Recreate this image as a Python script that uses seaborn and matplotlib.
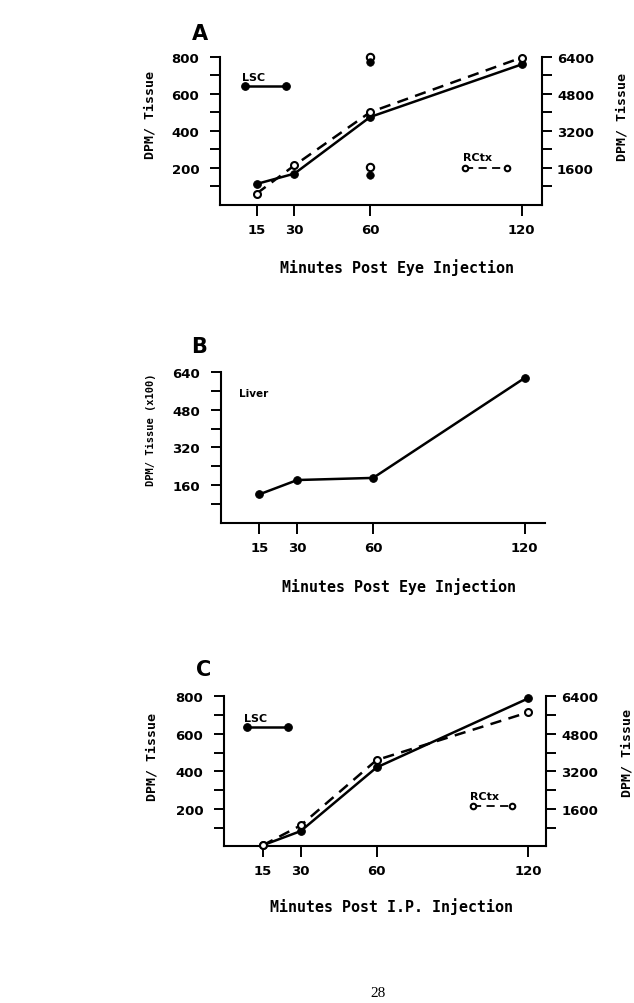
import numpy as np
import pandas as pd
import matplotlib
matplotlib.use("Agg")
import matplotlib.pyplot as plt
import seaborn as sns

# ---------------- data ----------------
minutes = [15, 30, 60, 120]
x_ticks = [15, 30, 60, 120]

# Panel A (eye injection)
a_lsc = [112, 168, 474, 758]            # left axis, DPM/Tissue
a_rctx = [480, 1700, 4000, 6360]        # right axis, DPM/Tissue
a_spread_x = [60, 60]
a_spread_open = [797, 203]              # left-axis scale
a_spread_filled = [773, 160]

# Panel B (liver, x100)
b_liver = [120, 181, 190, 616]

# Panel C (i.p. injection)
c_lsc = [10, 85, 421, 786]
c_rctx = [80, 920, 3680, 5700]

left_ticks = [100, 200, 300, 400, 500, 600, 700, 800]
left_labels = ["", "200", "", "400", "", "600", "", "800"]
right_ticks = [800, 1600, 2400, 3200, 4000, 4800, 5600, 6400]
right_labels = ["", "1600", "", "3200", "", "4800", "", "6400"]
b_ticks = [80, 160, 240, 320, 400, 480, 560, 640]
b_labels = ["", "160", "", "320", "", "480", "", "640"]

# ---------------- style ----------------
sns.set_style("ticks")
plt.rcParams["font.family"] = ["DejaVu Sans"]
plt.rcParams["font.weight"] = "bold"
for k in ("text.color", "axes.labelcolor", "xtick.color", "ytick.color", "axes.edgecolor"):
    plt.rcParams[k] = "black"

MONO = "DejaVu Sans Mono"
LW = 1.8
SPW = 1.5

fig = plt.figure(figsize=(6.34, 10.04), dpi=100)


def style_axis(ax, xlim, ylim, yt, yl, pad_left=8):
    ax.set_xlim(*xlim)
    ax.set_ylim(*ylim)
    ax.set_xticks(x_ticks)
    ax.set_xticklabels([str(v) for v in x_ticks], fontsize=9.5, fontweight="bold")
    ax.set_yticks(yt)
    ax.set_yticklabels(yl, fontsize=9.5, fontweight="bold")
    ax.tick_params(axis="x", direction="out", length=8, width=1.4, pad=5, colors="black")
    ax.tick_params(axis="y", direction="out", length=7, width=1.4, pad=pad_left, colors="black")
    ax.spines["top"].set_visible(False)
    ax.spines["right"].set_visible(False)
    for s in ("left", "bottom"):
        ax.spines[s].set_linewidth(SPW)
        ax.spines[s].set_color("black")
    ax.set_xlabel("")
    ax.set_ylabel("")
    ax.grid(False)


def add_right(ax, ylim):
    tw = ax.twinx()
    tw.set_ylim(*ylim)
    tw.set_yticks(right_ticks)
    tw.set_yticklabels(right_labels, fontsize=9.5, fontweight="bold")
    tw.tick_params(axis="y", direction="out", length=7, width=1.4, pad=4, colors="black")
    for s in ("top", "left", "bottom"):
        tw.spines[s].set_visible(False)
    tw.spines["right"].set_linewidth(SPW)
    tw.spines["right"].set_color("black")
    tw.set_ylabel("")
    return tw


def dpm_labels(ax, lx, ly, rx, ry):
    ax.text(lx, ly, "DPM/ Tissue", transform=ax.transAxes, rotation=90,
            ha="center", va="center", fontsize=9.5, family=MONO, fontweight="bold")
    ax.text(rx, ry, "DPM/ Tissue", transform=ax.transAxes, rotation=90,
            ha="center", va="center", fontsize=9.5, family=MONO, fontweight="bold")


filled = dict(marker="o", markersize=5.5, markerfacecolor="black",
              markeredgecolor="black", color="black", linewidth=LW, clip_on=False)
opened = dict(marker="o", markersize=5, markerfacecolor="white",
              markeredgecolor="black", markeredgewidth=1.5, color="black",
              linewidth=LW, linestyle=(0, (4.5, 3)), clip_on=False)

# ---------------- Panel A ----------------
axA = fig.add_axes([220 / 634, 1 - 205.7 / 1004, 321.7 / 634, 148 / 1004])
dfA = pd.DataFrame({"min": minutes, "lsc": a_lsc, "rctx": a_rctx})
sns.lineplot(data=dfA, x="min", y="lsc", ax=axA, **filled)
style_axis(axA, (0.5, 128), (0, 800), left_ticks, left_labels)
twA = add_right(axA, (0, 6400))
sns.lineplot(data=dfA, x="min", y="rctx", ax=twA, **opened)
twA.set_ylabel("")
sns.scatterplot(x=a_spread_x, y=a_spread_open, ax=axA, s=28, facecolor="white",
                edgecolor="black", linewidth=1.5, zorder=5, clip_on=False)
sns.scatterplot(x=a_spread_x, y=a_spread_filled, ax=axA, s=30, color="black",
                edgecolor="black", zorder=5, clip_on=False)
axA.set_xlabel(""); axA.set_ylabel("")
# in-plot keys
sns.lineplot(x=[10.4, 26.5], y=[644, 644], ax=axA, **filled)
axA.text(9.1, 676, "LSC", fontsize=8, fontweight="bold")
sns.lineplot(x=[97.7, 114.2], y=[1600, 1600], ax=twA,
             **dict(opened, linewidth=1.3, markersize=4))
axA.text(96.9, 243, "RCtx", fontsize=8, fontweight="bold")
axA.set_xlabel(""); axA.set_ylabel(""); twA.set_ylabel("")
dpm_labels(axA, -0.2176, 0.613, 1.249, 0.60)
axA.text(0.549, -0.416, "Minutes Post Eye Injection", transform=axA.transAxes,
         ha="center", va="center", fontsize=10.8, family=MONO, fontweight="bold")
axA.text(-0.062, 1.157, "A", transform=axA.transAxes, ha="center", va="center",
         fontsize=15, fontweight="bold")

# ---------------- Panel B ----------------
axB = fig.add_axes([220.7 / 634, 1 - 523.5 / 1004, 324.3 / 634, 150.2 / 1004])
dfB = pd.DataFrame({"min": minutes, "liver": b_liver})
sns.lineplot(data=dfB, x="min", y="liver", ax=axB, **filled)
style_axis(axB, (-0.3, 128), (0, 640), b_ticks, b_labels)
axB.text(7, 540, "Liver", fontsize=7.5, fontweight="bold")
axB.text(-0.215, 0.622, "DPM/ Tissue (x100)", transform=axB.transAxes, rotation=90,
         ha="center", va="center", fontsize=7.5, family=MONO, fontweight="bold")
axB.text(0.55, -0.421, "Minutes Post Eye Injection", transform=axB.transAxes,
         ha="center", va="center", fontsize=10.8, family=MONO, fontweight="bold")
axB.text(-0.067, 1.175, "B", transform=axB.transAxes, ha="center", va="center",
         fontsize=15, fontweight="bold")

# ---------------- Panel C ----------------
axC = fig.add_axes([224 / 634, 1 - 846.7 / 1004, 322 / 634, 150 / 1004])
dfC = pd.DataFrame({"min": minutes, "lsc": c_lsc, "rctx": c_rctx})
sns.lineplot(data=dfC, x="min", y="lsc", ax=axC, **filled)
style_axis(axC, (-0.3, 127), (8, 800), left_ticks, left_labels)
twC = add_right(axC, (64, 6400))
sns.lineplot(data=dfC, x="min", y="rctx", ax=twC, **opened)
sns.lineplot(x=[8.8, 24.9], y=[637, 637], ax=axC, **filled)
axC.text(7.6, 668, "LSC", fontsize=8, fontweight="bold")
sns.lineplot(x=[98.3, 113.7], y=[1744, 1744], ax=twC,
             **dict(opened, linewidth=1.3, markersize=4))
axC.text(97, 256, "RCtx", fontsize=8, fontweight="bold")
axC.set_xlabel(""); axC.set_ylabel(""); twC.set_ylabel("")
dpm_labels(axC, -0.2245, 0.598, 1.2506, 0.622)
axC.text(0.521, -0.40, "Minutes Post I.P. Injection", transform=axC.transAxes,
         ha="center", va="center", fontsize=10.8, family=MONO, fontweight="bold")
axC.text(-0.062, 1.175, "C", transform=axC.transAxes, ha="center", va="center",
         fontsize=15, fontweight="bold")

# page number
fig.text(378 / 634, 1 - 994 / 1004, "28", ha="center", va="center",
         fontsize=11, family="Liberation Serif", fontweight="normal")

fig.savefig("out.png", dpi=100, facecolor="white")
